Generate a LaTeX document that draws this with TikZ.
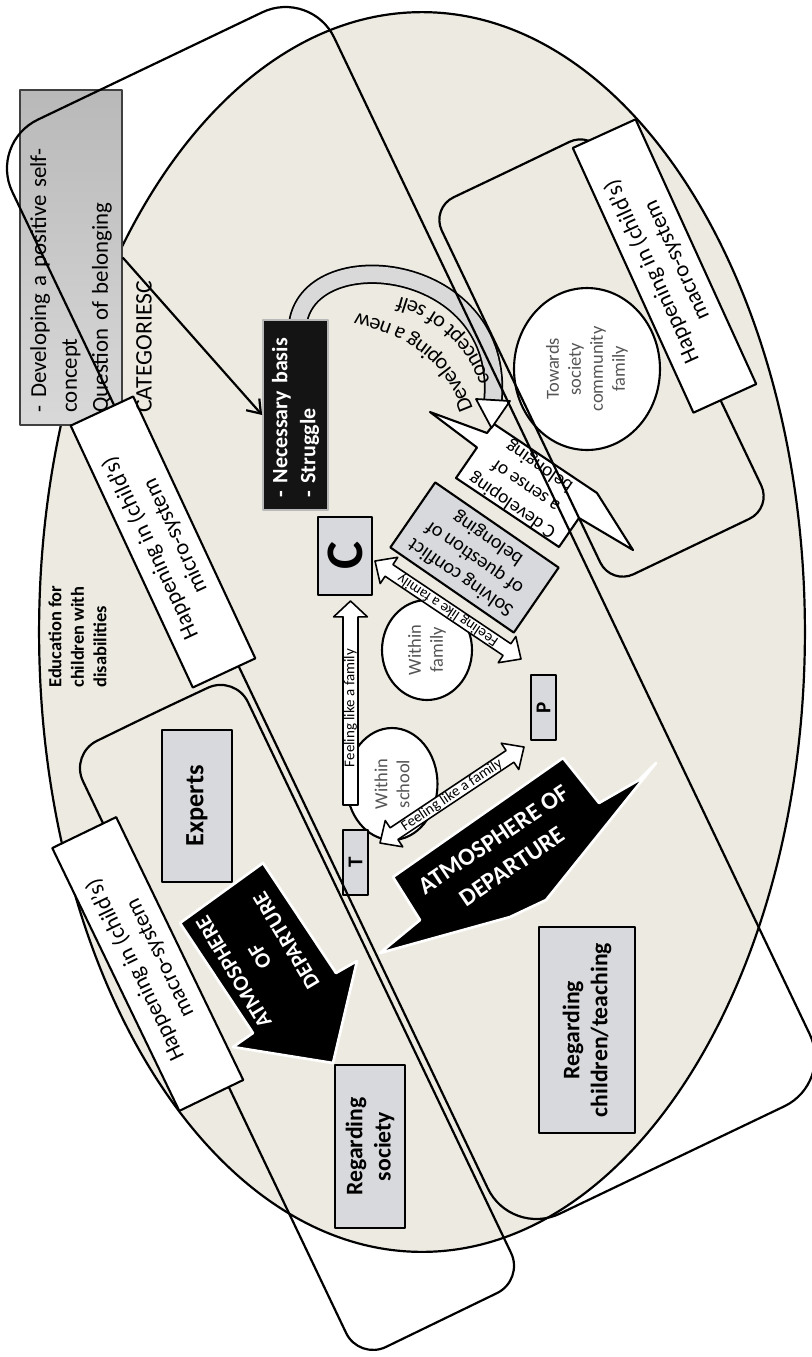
\documentclass[tikz,border=0pt]{standalone}
\usepackage{fontspec}
\setmainfont{Carlito}
\usetikzlibrary{calc,decorations.text,arrows.meta,shapes.geometric}
\definecolor{beige}{RGB}{237,235,225}
\definecolor{boxgray}{RGB}{216,217,220}
\definecolor{txtgray}{RGB}{85,85,85}
\newcommand{\fsz}[2]{\fontsize{#1}{#2}\selectfont}
\newcommand{\dblarr}[5]{%
  \coordinate (da1) at ($(#1)!#5!(#2)$);
  \coordinate (db1) at ($(#2)!#5!(#1)$);
  \draw[farrow] (#1) -- ($(da1)!#4!90:(#2)$) -- ($(da1)!#3!90:(#2)$)
     -- ($(db1)!#3!-90:(#1)$) -- ($(db1)!#4!-90:(#1)$) -- (#2)
     -- ($(db1)!#4!90:(#1)$) -- ($(db1)!#3!90:(#1)$)
     -- ($(da1)!#3!-90:(#2)$) -- ($(da1)!#4!-90:(#2)$) -- cycle;}
\newcommand{\sglarr}[5]{%
  \coordinate (db1) at ($(#2)!#5!(#1)$);
  \draw[farrow] ($(#1)!#3!90:(#2)$) -- ($(db1)!#3!-90:(#1)$) -- ($(db1)!#4!-90:(#1)$) -- (#2)
     -- ($(db1)!#4!90:(#1)$) -- ($(db1)!#3!90:(#1)$) -- ($(#1)!#3!-90:(#2)$) -- cycle;}
\begin{document}
\begin{tikzpicture}[x=0.02cm,y=-0.02cm,line join=round,
  ln/.style={draw=black,line width=1.25pt},
  gbox/.style={draw=black,fill=boxgray,line width=1.2pt,inner sep=1pt},
  wbox/.style={draw=black,fill=white,line width=1.2pt,inner sep=1pt},
  farrow/.style={draw=black,fill=white,line width=0.9pt},
  blk/.style={fill=black,draw=white,line width=1.5pt},
  lbl/.style={font=\fsz{13}{15.5},align=center},
  bld/.style={font=\bfseries\fsz{13.5}{16},align=center},
  circ/.style={ellipse,draw=black,fill=white,line width=1.2pt,inner sep=0pt,font=\fsz{10.5}{12.5},text=txtgray,align=center},
  ftext/.style={font=\fsz{8.5}{10},inner sep=0pt}]
\useasboundingbox (0,0) rectangle (812,1357);
\clip (0,0) rectangle (812,1357);

% big ellipse
\draw[ln,fill=beige] (422,632) ellipse [x radius=7.66cm,y radius=12.4cm];

% categories box
\shade[top color=gray!55, middle color=gray!10, bottom color=gray!30] (20,90) rectangle (122,425);
\node[rotate=90, draw=gray!50!black, line width=0.8pt, minimum width=6.7cm, minimum height=2.04cm,
  text width=6.2cm, align=left, inner sep=0pt, font=\fsz{13}{17.6}] (dev) at (71,257.5)
  {- Developing a positive self-\\concept\\Question of belonging};

% Education text
\node[rotate=90, anchor=north west, align=left, inner sep=0pt, font=\bfseries\fsz{10.5}{12.8}] (edu) at (48,688)
  {Education for\\children with\\disabilities};

% circles
\node[circ, rotate=90, minimum width=2.24cm, minimum height=1.82cm] (wschool) at (392,784) {Within\\school};
\node[circ, rotate=90, minimum width=2.0cm, minimum height=1.8cm] (wfam) at (427,650) {Within\\family};
\node[circ, rotate=90, minimum width=3.24cm, minimum height=2.92cm] (tow) at (587,369) {Towards\\society\\community\\family};

% boxes
\node[gbox, rotate=90, minimum width=1.56cm, minimum height=1.08cm, font=\bfseries\fsz{30}{30}] (C) at (345,556) {C};
\node[gbox, rotate=90, minimum width=1.3cm, minimum height=0.5cm, font=\bfseries\fsz{12}{12}] (T) at (355.5,862.5) {T};
\node[gbox, rotate=90, minimum width=1.3cm, minimum height=0.5cm, font=\bfseries\fsz{12}{12}] (P) at (543.5,707.5) {P};
\node[gbox, rotate=90, minimum width=3.04cm, minimum height=1.4cm, font=\bfseries\fsz{15}{18}] (exp) at (197,806) {Experts};
\node[gbox, rotate=90, minimum width=3.26cm, minimum height=1.4cm, bld] (rsoc) at (370,1146.5) {Regarding\\society};
\node[gbox, rotate=90, minimum width=4.12cm, minimum height=1.92cm, bld] (rchild) at (587,1030) {Regarding\\children/teaching};

% feeling-like-a-family arrows
\coordinate (v1) at (350.5,805); \coordinate (v2) at (350.5,601);
\sglarr{v1}{v2}{4.25pt}{9.6pt}{9pt}
\node[rotate=90, ftext] at (350.5,708) {Feeling like a family};
\coordinate (d1) at (380,843); \coordinate (d2) at (524,747);
\dblarr{d1}{d2}{4pt}{9pt}{9.6pt}
\node[rotate=33.7, ftext] at ($(d1)!0.5!(d2)$) {Feeling like a family};
\coordinate (e1) at (375,561); \coordinate (e2) at (521,659);
\dblarr{e1}{e2}{4pt}{9pt}{9.6pt}
\node[rotate=146, ftext] at ($(e1)!0.5!(e2)$) {Feeling like a family};

% solving conflict box
\node[gbox, rotate=145.4, minimum width=3.0cm, minimum height=1.58cm, font=\fsz{11.5}{13.5}, align=center] (solv) at (474.5,557.5)
  {Solving conflict\\of question of\\belonging};

% white callout
\draw[wbox] (456,478) -- (559,547) -- (579,518) -- (633,550) -- (597,493) -- (494,424) -- (487,433) -- (430,412) -- (477,447.5) -- cycle;
\node[rotate=145.4, font=\fsz{11}{13.5}, align=center, inner sep=0pt] (cdev) at (526,485.5) {C developing\\a sense of\\belonging};

% curved band arrow
\draw[line width=1pt, double=gray!30, double distance=9pt] (298,322) .. controls (312,240) and (505,262) .. (493,400);
\draw[farrow, line width=1pt] (476,399) -- (510,401) -- (491.5,428) -- cycle;
\path[decorate, decoration={text along path, text={|\fsz{12.5}{14}|concept of self}}] (490,382) .. controls (472,328) and (422,290) .. (358,292);
\path[decorate, decoration={text along path, text={|\fsz{12.5}{14}|Developing a new}}] (473,409) .. controls (450,345) and (400,315) .. (322,309);

% black box
\node[rotate=90, fill=black!92, draw=gray!55, line width=1pt, minimum width=3.8cm, minimum height=1.3cm,
  text width=3.3cm, align=left, inner sep=0pt, text=white, font=\bfseries\fsz{12.5}{16}] (nb) at (295.5,415)
  {- Necessary basis\\- Struggle};

% atmosphere arrows
\draw[blk] (393,877) -- (563,758) -- (599,803) -- (639,780) -- (656,763) -- (546,900) -- (510,917) -- (380,953) -- (420,920) -- cycle;
\node[rotate=34, text=white, font=\bfseries\fsz{14}{18.5}, align=center] (atm1) at (503,853) {ATMOSPHERE OF\\DEPARTURE};
\draw[blk] (180,923) -- (263,863) -- (336,973) -- (357,961) -- (333,1063) -- (233,1047) -- (253,1033) -- cycle;
\node[rotate=121, text=white, font=\bfseries\fsz{12.5}{17.5}, align=center] (atm2) at (260,956) {ATMOSPHERE\\OF\\DEPARTURE};

% rounded system rectangles
\draw[ln, rounded corners=1.08cm] (150,66) -- (311,-11) -- (833,1083) -- (511,1237) -- (-11,143) -- cycle;
\draw[ln, rounded corners=0.6cm] (152,714) -- (235,675) -- (524,1280) -- (359,1360) -- (70,754) -- cycle;
\draw[ln, rounded corners=0.5cm] (511,170) -- (592,131) -- (772,508) -- (611,585) -- (431,208) -- cycle;

% labels
\node[wbox, rotate=114.5, minimum width=5.82cm, minimum height=1.38cm, lbl] (L1) at (664.5,266) {Happening in (child’s)\\macro-system};
\node[wbox, rotate=115, minimum width=5.78cm, minimum height=1.38cm, lbl] (L2) at (163,542) {Happening in (child’s)\\micro-system};
\node[wbox, rotate=115.8, minimum width=5.84cm, minimum height=1.42cm, lbl] (L3) at (147.75,964) {Happening in (child’s)\\macro-system};

\node[rotate=90, anchor=west, inner sep=0pt, font=\fsz{13.5}{16}] (cat) at (144,413) {CATEGORIESC};
\draw[ln, -{Straight Barb[length=7pt,width=10pt]}] (dev.south) -- (nb.north);
\end{tikzpicture}
\end{document}
